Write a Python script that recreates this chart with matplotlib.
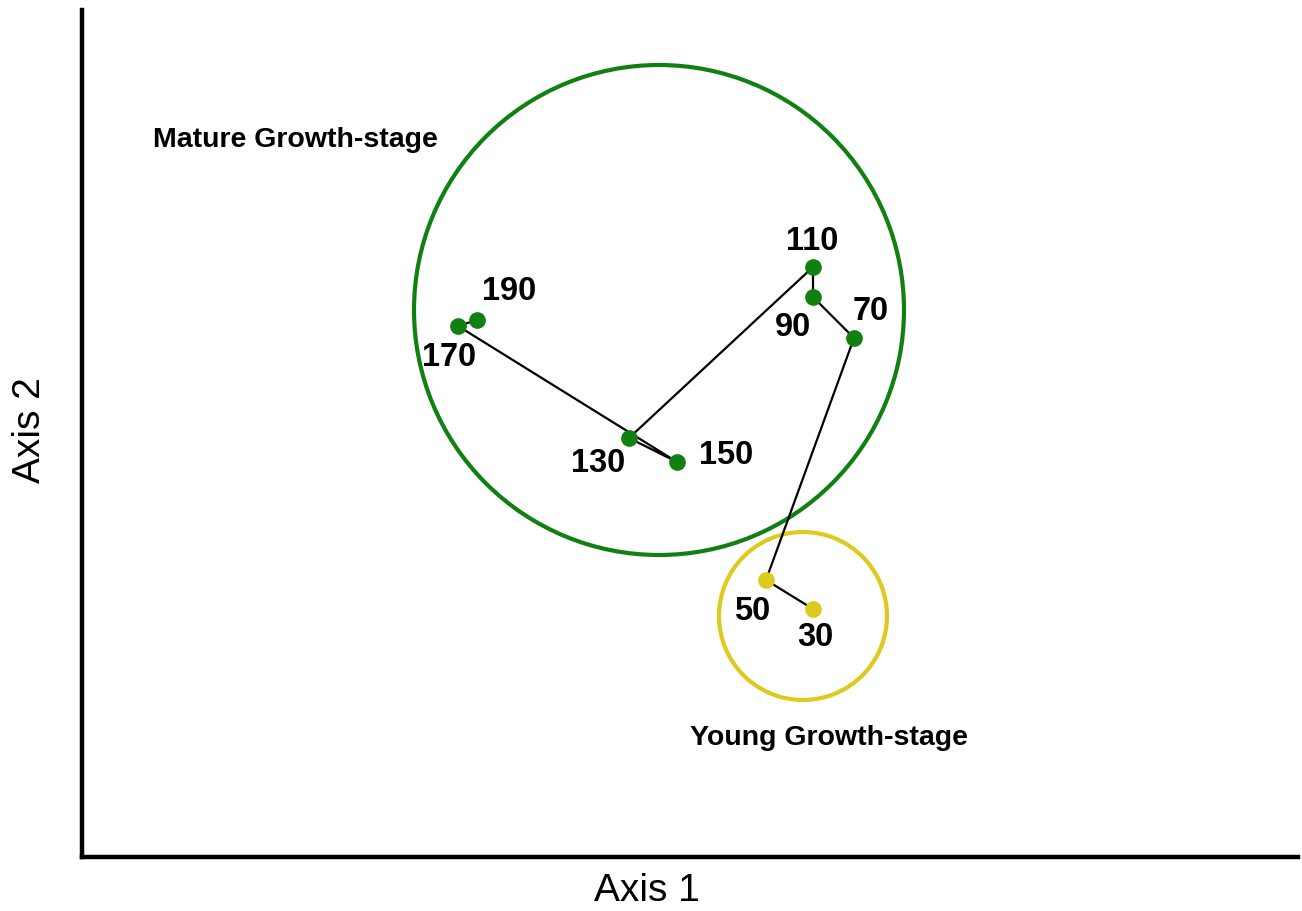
import matplotlib
matplotlib.use("Agg")
import matplotlib.pyplot as plt
from matplotlib.patches import Circle

plt.rcParams['font.family'] = ['Liberation Sans', 'DejaVu Sans']

# Data (ordination scores, arbitrary units)
days = [30, 50, 70, 90, 110, 130, 150, 170, 190]
axis1 = [731, 684, 772, 731, 731, 547, 595, 376, 395]
axis2 = [248, 277, 519, 560, 590, 419, 395, 531, 537]
stage = ['young', 'young', 'mature', 'mature', 'mature', 'mature', 'mature', 'mature', 'mature']

# Group ellipses (center x, center y, radius)
group_names = ['Mature Growth-stage', 'Young Growth-stage']
group_cx = [577, 721]
group_cy = [547, 241]
group_r = [245, 84]

# style
colors = {'young': '#dccb1c', 'mature': '#108010'}
group_colors = ['#108010', '#dccb1c']
label_offsets = [(2, -29), (-14, -31), (17, 27), (-20, -31), (-1, 25),
                 (-31, -25), (49, 6), (-9, -32), (32, 29)]
group_label_pos = [(213, 717), (747, 119)]

fig = plt.figure(figsize=(13.02, 9.11), dpi=100)
ax = fig.add_axes([82/1302, (911-857)/911, (1298-82)/1302, (857-10)/911])
ax.set_xlim(0, 1216)
ax.set_ylim(0, 847)

for cx, cy, r, c in zip(group_cx, group_cy, group_r, group_colors):
    ax.add_patch(Circle((cx, cy), r, fill=False, edgecolor=c, linewidth=3, zorder=2))

ax.plot(axis1, axis2, color='black', linewidth=1.6, zorder=3)
for x, y, s in zip(axis1, axis2, stage):
    ax.plot([x], [y], 'o', color=colors[s], markersize=11, zorder=4)

for x, y, d, (dx, dy) in zip(axis1, axis2, days, label_offsets):
    ax.annotate(str(d), (x, y), xytext=(dx, dy), textcoords='offset pixels',
                ha='center', va='center', fontsize=23.5, fontweight='bold', zorder=5)

for name, (gx, gy) in zip(group_names, group_label_pos):
    ax.text(gx, gy, name, ha='center', va='center', fontsize=20.5, fontweight='bold')

for side in ['top', 'right']:
    ax.spines[side].set_visible(False)
for side in ['left', 'bottom']:
    ax.spines[side].set_linewidth(3.2)
ax.set_xticks([])
ax.set_yticks([])

fig.text(647/1302, 1 - 891/911, 'Axis 1', ha='center', va='center', fontsize=28)
fig.text(30/1302, 1 - 430/911, 'Axis 2', ha='center', va='center', fontsize=28, rotation=90)

fig.savefig('out.png', dpi=100)
